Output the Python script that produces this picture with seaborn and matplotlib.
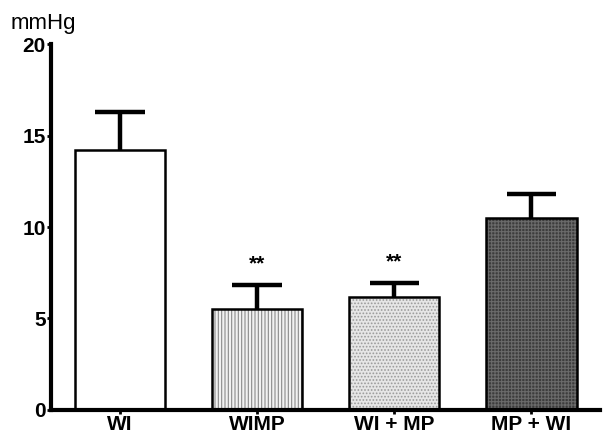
import numpy as np
import pandas as pd
import matplotlib
matplotlib.use("Agg")
import matplotlib.pyplot as plt
import seaborn as sns

# ── Data ─────────────────────────────────────────────────────────────────────
groups = ["WI", "WIMP", "WI + MP", "MP + WI"]
means = [14.2, 5.5, 6.2, 10.5]
sem = [2.1, 1.35, 0.75, 1.3]
signif = ["", "**", "**", ""]

faces = ["white", "#f2f2f2", "#e6e6e6", "#3c3c3c"]
hatches = [None, "|||||", ".....", "+++++"]
hatch_cols = ["black", "#8a8a8a", "#9a9a9a", "#6a6a6a"]

df = pd.DataFrame({"group": groups, "value": means})

# ── Plot ─────────────────────────────────────────────────────────────────────
sns.set_theme(style="ticks")
plt.rcParams["font.family"] = ["Liberation Sans", "DejaVu Sans"]
plt.rcParams["hatch.linewidth"] = 0.8
plt.rcParams["text.color"] = "black"
plt.rcParams["xtick.color"] = "black"
plt.rcParams["ytick.color"] = "black"
plt.rcParams["axes.edgecolor"] = "black"

fig = plt.figure(figsize=(6.03, 4.37), dpi=100)
ax = fig.add_axes([0.085, 0.062, 0.91, 0.837])

sns.barplot(data=df, x="group", y="value", order=groups, ax=ax,
            width=0.66, errorbar=None, color="white", zorder=2)

for patch, fc, h, hc in zip(ax.patches, faces, hatches, hatch_cols):
    patch.set_facecolor(fc)
    patch.set_edgecolor(hc)
    if h:
        patch.set_hatch(h)
    patch.set_linewidth(0)
    # black outline drawn on top
    x0, y0 = patch.get_x(), patch.get_y()
    ax.add_patch(plt.Rectangle((x0, y0), patch.get_width(), patch.get_height(),
                               fill=False, edgecolor="black", linewidth=1.8, zorder=3))

# upper-only error bars
xpos = np.arange(len(groups))
tops = np.array(means) + np.array(sem)
ax.vlines(xpos, means, tops, color="black", linewidth=3.2, zorder=1)
ax.hlines(tops, xpos - 0.18, xpos + 0.18, color="black", linewidth=3.2, zorder=1)

for x, t, txt in zip(xpos, tops, signif):
    if txt:
        ax.text(x, t + 0.6, txt, ha="center", va="bottom",
                fontsize=15, fontweight="bold")

ax.set_xlim(-0.5, 3.5)
ax.set_ylim(0, 20)
ax.set_yticks([0, 5, 10, 15, 20])
ax.set_xlabel("")
ax.set_ylabel("")
ax.tick_params(axis="both", direction="out", length=3, width=2, labelsize=15, pad=1)
for lab in ax.get_xticklabels() + ax.get_yticklabels():
    lab.set_fontweight("bold")

for side in ["left", "bottom"]:
    ax.spines[side].set_linewidth(3)
sns.despine(ax=ax)

fig.text(0.017, 0.922, "mmHg", fontsize=16, ha="left", va="bottom")

plt.savefig("out.png", dpi=100)
